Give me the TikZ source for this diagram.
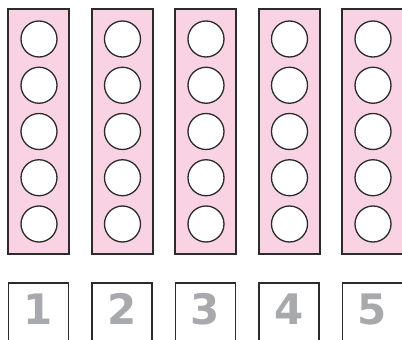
\documentclass[tikz,border=0pt]{standalone}
\usepackage{fontspec}
\newfontfamily\digitfont{DejaVu Sans}
\usetikzlibrary{positioning,calc}
\definecolor{ink}{HTML}{2B2B2B}
\definecolor{stripfill}{HTML}{F9D3E3}
\definecolor{digit}{HTML}{A7A9AC}

\begin{document}
\begin{tikzpicture}[x=1pt, y=-1pt,
  frame/.style={draw=ink, line width=2pt, fill=stripfill, minimum width=61pt, minimum height=245pt, inner sep=0pt},
  hole/.style={circle, draw=ink, line width=1.3pt, fill=white, minimum size=36pt, inner sep=0pt},
  card/.style={draw=ink, line width=1.5pt, fill=white, minimum width=60pt, minimum height=90pt, inner sep=0pt, anchor=north},
  num/.style={font=\digitfont\bfseries\fontsize{42}{42}\selectfont, text=digit, anchor=base},
]
\useasboundingbox (0,0) rectangle (402,340);
\clip (0,0) rectangle (402,340);
\foreach \i in {1,...,5} {
  % strip with five holes
  \node[frame] (strip\i) at ({38.5+83.5*(\i-1)},131.5) {};
  \foreach \j in {1,...,5}
    \node[hole] (hole\i\j) at ({39+83.5*(\i-1)},{39+46.25*(\j-1)}) {};
  % number card below
  \node[card] (card\i) at ({38.5+83.5*(\i-1)},282) {};
  \node[num] (num\i) at ($(card\i.north)+(0,42)$) {\i};
}
\end{tikzpicture}
\end{document}
